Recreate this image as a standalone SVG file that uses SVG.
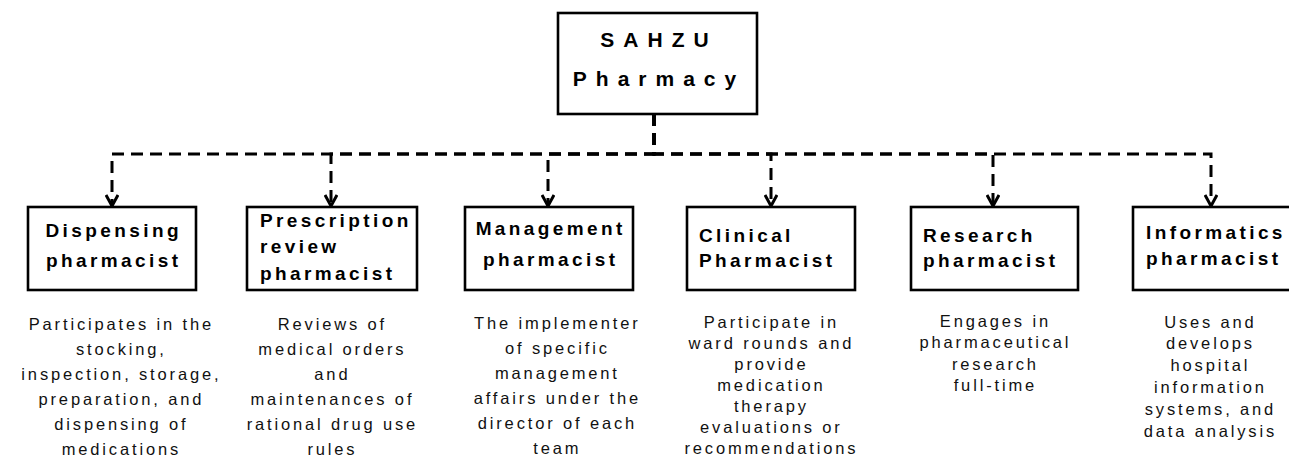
<svg xmlns="http://www.w3.org/2000/svg" width="1289" height="458" viewBox="0 0 1289 458">
  <style>
    .box { fill: #ffffff; stroke: #000000; stroke-width: 2.6; }
    .title { font-family: "Liberation Sans", Arial, sans-serif; font-weight: bold; font-size: 21px; letter-spacing: 9px; fill: #000000; text-anchor: middle; }
    .head { font-family: "Liberation Sans", Arial, sans-serif; font-weight: bold; font-size: 19px; letter-spacing: 3.4px; fill: #000000; }
    .mid { text-anchor: middle; }
    .desc { font-family: "Liberation Sans", Arial, sans-serif; font-size: 16.5px; letter-spacing: 2.85px; fill: #111111; text-anchor: middle; }
    .link { fill: none; stroke: #000000; stroke-width: 3; stroke-dasharray: 12 7; }
  </style>
  <defs>
    <!-- open chevron arrowhead, drawn along +x so orient="auto" follows the line -->
    <marker id="chevron" viewBox="0 0 14 14" refX="12" refY="7" markerWidth="14" markerHeight="14" markerUnits="userSpaceOnUse" orient="auto">
      <path d="M1 1 L12 7 L1 13" fill="none" stroke="#000000" stroke-width="3"/>
    </marker>
  </defs>
  <rect width="1289" height="458" fill="#ffffff"/>

  <!-- connectors from the root box to each role -->
  <g id="connectors">
    <path class="link" d="M654 114 V154 H112 V206" marker-end="url(#chevron)"/>
    <path class="link" d="M654 114 V154 H331 V206" marker-end="url(#chevron)"/>
    <path class="link" d="M654 114 V154 H548 V206" marker-end="url(#chevron)"/>
    <path class="link" d="M654 114 V154 H771 V206" marker-end="url(#chevron)"/>
    <path class="link" d="M654 114 V154 H993 V206" marker-end="url(#chevron)"/>
    <path class="link" d="M654 114 V154 H1211 V206" marker-end="url(#chevron)"/>
  </g>

  <g id="root">
    <rect class="box" x="558" y="13" width="199" height="101"/>
    <text class="title" x="659" y="47">SAHZU</text>
    <text class="title" x="659" y="86">Pharmacy</text>
  </g>

  <g id="dispensing">
    <rect class="box" x="28" y="207" width="168" height="83"/>
    <text class="head mid" x="113.7" y="237">Dispensing</text>
    <text class="head mid" x="113.7" y="267">pharmacist</text>
    <text class="desc" x="121.4" y="329.5">Participates in the</text>
    <text class="desc" x="121.4" y="354.6">stocking,</text>
    <text class="desc" x="121.4" y="379.7">inspection, storage,</text>
    <text class="desc" x="121.4" y="404.8">preparation, and</text>
    <text class="desc" x="121.4" y="429.9">dispensing of</text>
    <text class="desc" x="121.4" y="455">medications</text>
  </g>

  <g id="prescription">
    <rect class="box" x="247" y="207" width="170" height="83"/>
    <text class="head" x="260" y="227">Prescription</text>
    <text class="head" x="260" y="253">review</text>
    <text class="head" x="260" y="280">pharmacist</text>
    <text class="desc" x="332.4" y="329.5">Reviews of</text>
    <text class="desc" x="332.4" y="354.6">medical orders</text>
    <text class="desc" x="332.4" y="379.7">and</text>
    <text class="desc" x="332.4" y="404.8">maintenances of</text>
    <text class="desc" x="332.4" y="429.9">rational drug use</text>
    <text class="desc" x="332.4" y="455">rules</text>
  </g>

  <g id="management">
    <rect class="box" x="465" y="207" width="168" height="83"/>
    <text class="head mid" x="550.7" y="235">Management</text>
    <text class="head mid" x="550.7" y="266">pharmacist</text>
    <text class="desc" x="557.4" y="328.5">The implementer</text>
    <text class="desc" x="557.4" y="353.6">of specific</text>
    <text class="desc" x="557.4" y="378.7">management</text>
    <text class="desc" x="557.4" y="403.8">affairs under the</text>
    <text class="desc" x="557.4" y="428.9">director of each</text>
    <text class="desc" x="557.4" y="454">team</text>
  </g>

  <g id="clinical">
    <rect class="box" x="687" y="207" width="168" height="83"/>
    <text class="head" x="699" y="242">Clinical</text>
    <text class="head" x="699" y="267">Pharmacist</text>
    <text class="desc" x="771.4" y="327.5">Participate in</text>
    <text class="desc" x="771.4" y="348.5">ward rounds and</text>
    <text class="desc" x="771.4" y="369.5">provide</text>
    <text class="desc" x="771.4" y="390.5">medication</text>
    <text class="desc" x="771.4" y="411.5">therapy</text>
    <text class="desc" x="771.4" y="432.5">evaluations or</text>
    <text class="desc" x="771.4" y="453.5">recommendations</text>
  </g>

  <g id="research">
    <rect class="box" x="911" y="207" width="167" height="83"/>
    <text class="head" x="923" y="242">Research</text>
    <text class="head" x="923" y="267">pharmacist</text>
    <text class="desc" x="995.4" y="326.5">Engages in</text>
    <text class="desc" x="995.4" y="348">pharmaceutical</text>
    <text class="desc" x="995.4" y="369.5">research</text>
    <text class="desc" x="995.4" y="391">full-time</text>
  </g>

  <g id="informatics">
    <rect class="box" x="1133" y="207" width="170" height="83"/>
    <text class="head" x="1146" y="239">Informatics</text>
    <text class="head" x="1146" y="265">pharmacist</text>
    <text class="desc" x="1210.4" y="327.5">Uses and</text>
    <text class="desc" x="1210.4" y="349.3">develops</text>
    <text class="desc" x="1210.4" y="371.1">hospital</text>
    <text class="desc" x="1210.4" y="392.9">information</text>
    <text class="desc" x="1210.4" y="414.7">systems, and</text>
    <text class="desc" x="1210.4" y="436.5">data analysis</text>
  </g>
</svg>
